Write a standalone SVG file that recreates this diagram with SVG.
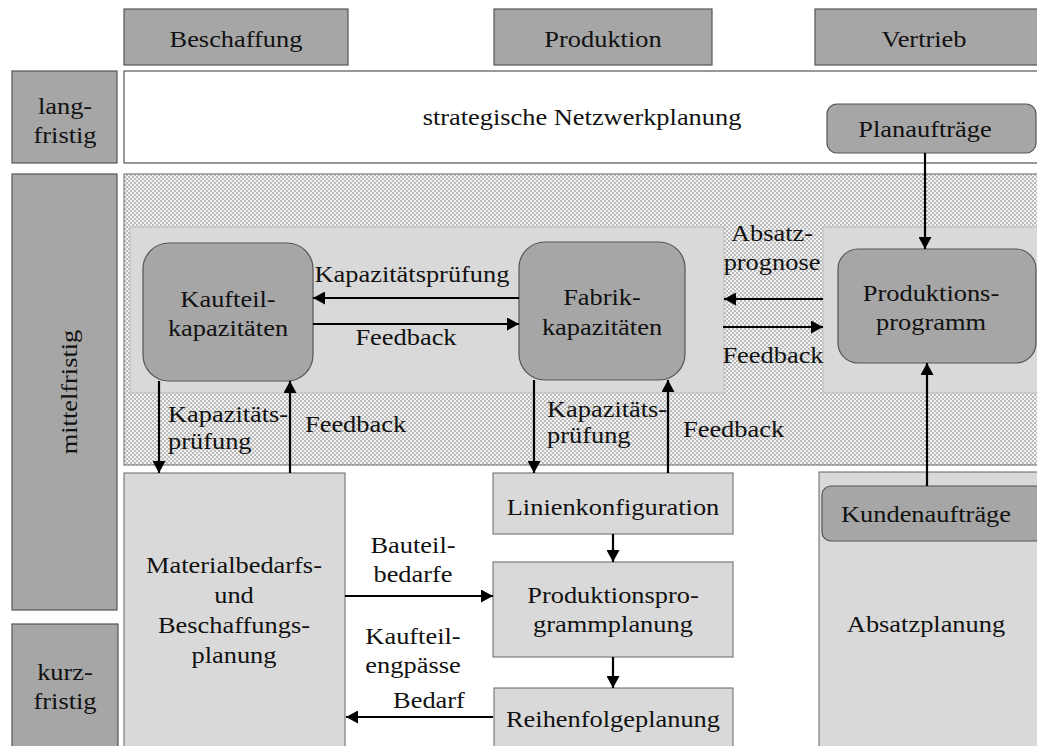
<svg xmlns="http://www.w3.org/2000/svg" width="1037" height="746" viewBox="0 0 1037 746" font-family="'Liberation Serif', serif">
<style>
text{font-family:'Liberation Serif',serif;font-size:24px;fill:#111;text-anchor:middle}
.st{text-anchor:start}
.dk{fill:#a6a6a6;stroke:#555;stroke-width:1.2}
.lt{fill:#d9d9d9;stroke:#666;stroke-width:1}
.pn{fill:#d9d9d9;stroke:#bdbdbd;stroke-width:1}
.wh{fill:#fff;stroke:#555;stroke-width:1.2}
.ar{stroke:#000;stroke-width:2.2;fill:none;marker-end:url(#ah)}
</style>
<defs>
<marker id="ah" markerUnits="userSpaceOnUse" markerWidth="13" markerHeight="13" refX="12" refY="6.5" orient="auto"><path d="M0,0 L12,6.5 L0,13 z" fill="#000"/></marker>
<pattern id="hatch" width="4" height="4" patternUnits="userSpaceOnUse"><rect width="4" height="4" fill="#f2f2f2"/><rect width="2" height="2" fill="#bcbcbc"/><rect x="2" y="2" width="2" height="2" fill="#bcbcbc"/></pattern>
</defs>

<g id="header-beschaffung"><rect class="dk" x="124" y="9" width="224" height="56"/><text transform="matrix(1.1 0 0 1 236 47)">Beschaffung</text></g>
<g id="header-produktion"><rect class="dk" x="494" y="9" width="218" height="56"/><text transform="matrix(1.1 0 0 1 603 47)">Produktion</text></g>
<g id="header-vertrieb"><rect class="dk" x="815" y="9" width="230" height="56"/><text transform="matrix(1.1 0 0 1 924 47)">Vertrieb</text></g>

<g id="label-langfristig"><rect class="dk" x="12" y="71" width="105" height="92"/><text transform="matrix(1.1 0 0 1 65 114)">lang-</text><text transform="matrix(1.1 0 0 1 65 143)">fristig</text></g>
<g id="label-mittelfristig"><rect class="dk" x="12" y="174" width="105" height="436"/><text transform="translate(77 392) rotate(-90) scale(1.1 1)">mittelfristig</text></g>
<g id="label-kurzfristig"><rect class="dk" x="12" y="624" width="106" height="130"/><text transform="matrix(1.1 0 0 1 65 680)">kurz-</text><text transform="matrix(1.1 0 0 1 65 709)">fristig</text></g>

<g id="strategische-netzwerkplanung"><rect class="wh" x="124" y="71" width="920" height="92"/><text transform="matrix(1.1 0 0 1 582 125)">strategische Netzwerkplanung</text></g>
<g id="planauftraege"><rect class="dk" x="827" y="104" width="209" height="49" rx="10"/><text transform="matrix(1.1 0 0 1 925 137)">Planaufträge</text></g>

<g id="mittelfristig-bereich"><rect x="124" y="174" width="920" height="291" fill="url(#hatch)" stroke="#666" stroke-width="1"/>
<rect class="pn" x="130" y="227" width="594" height="166"/>
<rect class="pn" x="823" y="227" width="220" height="166"/></g>

<g id="kaufteilkapazitaeten"><rect class="dk" x="143" y="243" width="170" height="138" rx="26"/><text transform="matrix(1.1 0 0 1 228 307)">Kaufteil-</text><text transform="matrix(1.1 0 0 1 228 336)">kapazitäten</text></g>
<g id="fabrikkapazitaeten"><rect class="dk" x="519" y="242" width="166" height="138" rx="26"/><text transform="matrix(1.1 0 0 1 602 305)">Fabrik-</text><text transform="matrix(1.1 0 0 1 602 335)">kapazitäten</text></g>
<g id="produktionsprogramm"><rect class="dk" x="838" y="249" width="198" height="114" rx="20"/><text transform="matrix(1.1 0 0 1 931 301)">Produktions-</text><text transform="matrix(1.1 0 0 1 931 330)">programm</text></g>

<g id="materialbedarfsplanung"><rect class="lt" x="124" y="473" width="221" height="290"/><text transform="matrix(1.1 0 0 1 234 573)">Materialbedarfs-</text><text transform="matrix(1.1 0 0 1 234 603)">und</text><text transform="matrix(1.1 0 0 1 234 633)">Beschaffungs-</text><text transform="matrix(1.1 0 0 1 234 663)">planung</text></g>
<g id="linienkonfiguration"><rect class="lt" x="493" y="473" width="240" height="61"/><text transform="matrix(1.1 0 0 1 613 515)">Linienkonfiguration</text></g>
<g id="produktionsprogrammplanung"><rect class="lt" x="493" y="562" width="240" height="95"/><text transform="matrix(1.1 0 0 1 613 603)">Produktionspro-</text><text transform="matrix(1.1 0 0 1 613 632)">grammplanung</text></g>
<g id="reihenfolgeplanung"><rect class="lt" x="494" y="688" width="239" height="75"/><text transform="matrix(1.1 0 0 1 613 727)">Reihenfolgeplanung</text></g>
<g id="absatzplanung"><rect class="lt" x="819" y="472" width="230" height="290"/><text transform="matrix(1.1 0 0 1 926 632)">Absatzplanung</text></g>
<g id="kundenauftraege"><rect class="dk" x="822" y="486" width="225" height="55" rx="9"/><text transform="matrix(1.1 0 0 1 926 522)">Kundenaufträge</text></g>

<g id="connectors">
<line class="ar" x1="925" y1="153" x2="925" y2="249"/>
<line class="ar" x1="927" y1="486" x2="927" y2="363"/>
<line class="ar" x1="519" y1="298" x2="313" y2="298"/>
<line class="ar" x1="313" y1="324" x2="519" y2="324"/>
<line class="ar" x1="823" y1="299" x2="724" y2="299"/>
<line class="ar" x1="723" y1="327" x2="823" y2="327"/>
<line class="ar" x1="159" y1="381" x2="159" y2="473"/>
<line class="ar" x1="290" y1="473" x2="290" y2="381"/>
<line class="ar" x1="534" y1="380" x2="534" y2="473"/>
<line class="ar" x1="668" y1="473" x2="668" y2="380"/>
<line class="ar" x1="613" y1="534" x2="613" y2="562"/>
<line class="ar" x1="613" y1="657" x2="613" y2="688"/>
<line class="ar" x1="345" y1="596" x2="493" y2="596"/>
<line class="ar" x1="493" y1="717" x2="346" y2="717"/>
<text transform="matrix(1.1 0 0 1 412 282)">Kapazitätsprüfung</text>
<text transform="matrix(1.1 0 0 1 406 345)">Feedback</text>
<text transform="matrix(1.1 0 0 1 772 241)">Absatz-</text>
<text transform="matrix(1.1 0 0 1 772 270)">prognose</text>
<text transform="matrix(1.1 0 0 1 773 363)">Feedback</text>
<text class="st" transform="matrix(1.1 0 0 1 168 422)">Kapazitäts-</text>
<text class="st" transform="matrix(1.1 0 0 1 168 449)">prüfung</text>
<text class="st" transform="matrix(1.1 0 0 1 305 432)">Feedback</text>
<text class="st" transform="matrix(1.1 0 0 1 547 417)">Kapazitäts-</text>
<text class="st" transform="matrix(1.1 0 0 1 547 443)">prüfung</text>
<text class="st" transform="matrix(1.1 0 0 1 683 437)">Feedback</text>
<text transform="matrix(1.1 0 0 1 413 553)">Bauteil-</text>
<text transform="matrix(1.1 0 0 1 413 582)">bedarfe</text>
<text transform="matrix(1.1 0 0 1 413 644)">Kaufteil-</text>
<text transform="matrix(1.1 0 0 1 413 673)">engpässe</text>
<text transform="matrix(1.1 0 0 1 429 708)">Bedarf</text>
</g>
</svg>
